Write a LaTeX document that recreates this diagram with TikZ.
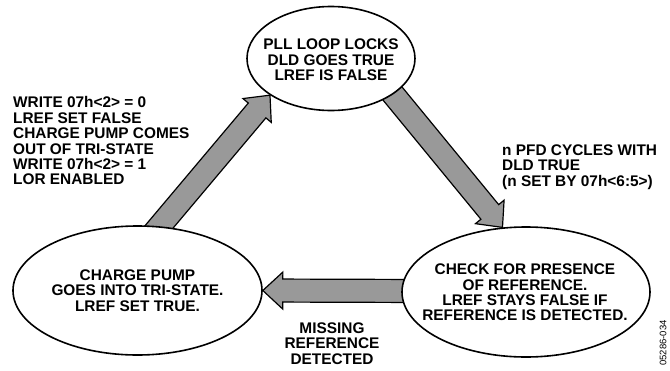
\documentclass[tikz,border=0pt]{standalone}
\usepackage{fontspec}
\setmainfont{Liberation Sans}
\usetikzlibrary{shapes.geometric,calc,backgrounds}
\newcommand{\statefont}{\fontsize{15.4}{15.4}\selectfont\bfseries}
\newcommand{\fatarr}[2]{%
  \coordinate (fah) at ($(#2)!20pt!(#1)$);
  \draw[fatarrow] ($(#1)!11.5pt!90:(#2)$) -- ($(fah)!11.5pt!90:(#2)$) -- ($(fah)!18.5pt!90:(#2)$) -- (#2)
     -- ($(fah)!18.5pt!-90:(#2)$) -- ($(fah)!11.5pt!-90:(#2)$) -- ($(#1)!11.5pt!-90:(#2)$) -- cycle;}
\begin{document}
\begin{tikzpicture}[x=1pt,y=-1pt,
  state/.style={draw, ellipse, line width=1.6pt, fill=white, inner sep=0pt},
  txt/.style={inner sep=0pt, align=center, font=\statefont},
  lbl/.style={inner sep=0pt, font=\statefont},
  fatarrow/.style={draw, line width=1.2pt, fill=black!40, line join=miter}]
\useasboundingbox (0,0) rectangle (670,370);
\node[state, minimum width=168pt, minimum height=104pt] (top) at (331,58.5) {};
\node[state, minimum width=249pt, minimum height=129pt] (left) at (137.5,290.5) {};
\node[state, minimum width=248pt, minimum height=130pt] (right) at (526,292) {};
\node[txt] (toptxt) at ($(top.center)+(0,1.5)$) {PLL LOOP LOCKS\\DLD GOES TRUE\\LREF IS FALSE};
\node[txt] (lefttxt) at (left.center) {CHARGE PUMP\\GOES INTO TRI-STATE.\\LREF SET TRUE.};
\node[txt] (righttxt) at ($(right.center)+(-1,0.5)$) {CHECK FOR PRESENCE\\OF REFERENCE.\\LREF STAYS FALSE IF\\REFERENCE IS DETECTED.};
\coordinate (s1) at (141.7,247.5);
\coordinate (s2) at (376,73.4);
\coordinate (s3) at (425,291);
\begin{scope}[on background layer]
\fatarr{s1}{top.211}
\fatarr{s2}{right.110}
\fatarr{s3}{left.east}
\end{scope}
\node[lbl, anchor=north west, align=left] (wlbl) at (13,96.5) {WRITE 07h<2> = 0\\LREF SET FALSE\\CHARGE PUMP COMES\\OUT OF TRI-STATE\\WRITE 07h<2> = 1\\LOR ENABLED};
\node[lbl, anchor=north west, align=left] (nlbl) at (502,144.5) {n PFD CYCLES WITH\\DLD TRUE\\(n SET BY 07h<6:5>)};
\node[lbl, anchor=north, align=center] (mlbl) at (332,322.5) {MISSING\\REFERENCE\\DETECTED};
\node[inner sep=0pt, rotate=90, font=\fontsize{9.5}{10}\selectfont] (code) at (663,343) {05286-034};
\end{tikzpicture}
\end{document}
